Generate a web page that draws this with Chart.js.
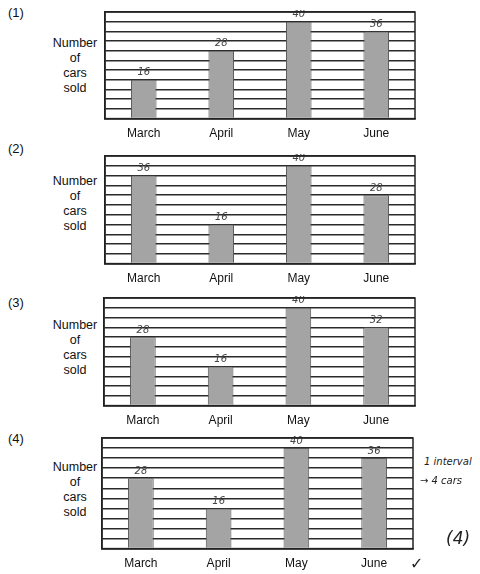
<!DOCTYPE html>
<html>
<head>
<meta charset="utf-8">
<script src="https://cdn.jsdelivr.net/npm/chart.js@4.4.1/dist/chart.umd.min.js"></script>
<style>
  html, body { margin: 0; padding: 0; background: #fff; }
  body { width: 480px; height: 574px; position: relative; overflow: hidden;
         font-family: "Liberation Sans", Arial, sans-serif; color: #111; }
  .num { position: absolute; left: 8px; font-size: 13px; }
  .ylab { position: absolute; width: 60px; left: 45px; text-align: center;
          font-size: 12.5px; line-height: 15px; }
  .box { position: absolute; }
  .hand { position: absolute; font-family: "DejaVu Sans", sans-serif; font-style: italic;
          color: #222; }
</style>
</head>
<body>
<div class="num" style="top:5px">(1)</div>
<div class="num" style="top:141px">(2)</div>
<div class="num" style="top:295px">(3)</div>
<div class="num" style="top:431px">(4)</div>

<div class="ylab" style="top:36px">Number<br>of<br>cars<br>sold</div>
<div class="ylab" style="top:174px">Number<br>of<br>cars<br>sold</div>
<div class="ylab" style="top:318px">Number<br>of<br>cars<br>sold</div>
<div class="ylab" style="top:460px">Number<br>of<br>cars<br>sold</div>

<div class="box" id="b1"><canvas id="c1"></canvas></div>
<div class="box" id="b2"><canvas id="c2"></canvas></div>
<div class="box" id="b3"><canvas id="c3"></canvas></div>
<div class="box" id="b4"><canvas id="c4"></canvas></div>

<div class="hand" style="left:424px; top:456px; font-size:10px">1 interval</div>
<div class="hand" style="left:420px; top:475px; font-size:10px">→ 4 cars</div>
<div class="hand" style="left:446px; top:528px; font-size:17px">(4)</div>
<div class="hand" style="left:410px; top:554px; font-size:16px">✓</div>

<script>
// months and cars sold, one option per chart
const months = ['March', 'April', 'May', 'June'];
const option1 = [16, 28, 40, 36];
const option2 = [36, 16, 40, 28];
const option3 = [28, 16, 40, 32];
const option4 = [28, 16, 40, 36];
const yMax = 44;
const yStep = 4;

// plot boxes in the page: left, top, width, height
const boxes = [
    { id: 1, data: option1, left: 105, top: 12, width: 310, height: 106 },
    { id: 2, data: option2, left: 105, top: 156, width: 310, height: 107 },
    { id: 3, data: option3, left: 104, top: 298, width: 311, height: 107 },
    { id: 4, data: option4, left: 102, top: 438, width: 311, height: 110 }
];

const PAD = 2;
const LABEL_PAD = 8;

// closes the frame on the right side of the plot
const frame = {
    id: 'frame',
    afterDraw(chart) {
        const { ctx, chartArea: a } = chart;
        ctx.save();
        ctx.strokeStyle = '#222';
        ctx.lineWidth = 1.5;
        ctx.strokeRect(a.left, a.top, a.right - a.left, a.bottom - a.top);
        ctx.restore();
    }
};

// pencil values written above the bars
const penValues = {
    id: 'penValues',
    afterDatasetsDraw(chart) {
        const { ctx } = chart;
        const meta = chart.getDatasetMeta(0);
        ctx.save();
        ctx.font = 'italic 10px "DejaVu Sans", sans-serif';
        ctx.fillStyle = '#444';
        ctx.textAlign = 'center';
        ctx.textBaseline = 'bottom';
        meta.data.forEach((bar, i) => {
            ctx.fillText(String(chart.data.datasets[0].data[i]), bar.x, bar.y - 2);
        });
        ctx.restore();
    }
};

boxes.forEach(b => {
    const wrap = document.getElementById('b' + b.id);
    wrap.style.left = (b.left - PAD) + 'px';
    wrap.style.top = (b.top - PAD) + 'px';
    wrap.style.width = (b.width + PAD * 2) + 'px';
    // the x axis box takes about 31px under the plot
    wrap.style.height = (b.height + PAD + LABEL_PAD + 23) + 'px';

    new Chart(document.getElementById('c' + b.id), {
        type: 'bar',
        data: {
            labels: months,
            datasets: [{
                data: b.data,
                backgroundColor: '#a4a4a4',
                borderColor: '#555',
                borderWidth: 1,
                barPercentage: 0.33,
                categoryPercentage: 1
            }]
        },
        options: {
            responsive: true,
            maintainAspectRatio: false,
            animation: false,
            layout: { padding: { left: PAD, right: PAD, top: PAD, bottom: 0 } },
            plugins: { legend: { display: false }, tooltip: { enabled: false } },
            scales: {
                x: {
                    grid: { display: false, drawTicks: false },
                    border: { display: true, color: '#222', width: 1.5 },
                    ticks: {
                        color: '#111',
                        padding: LABEL_PAD,
                        font: { family: '"Liberation Sans", Arial, sans-serif', size: 12 }
                    }
                },
                y: {
                    min: 0,
                    max: yMax,
                    ticks: { display: false, stepSize: yStep },
                    grid: { color: '#2a2a2a', lineWidth: 1.5, drawTicks: false },
                    border: { display: true, color: '#222', width: 1.5 }
                }
            }
        },
        plugins: [frame, penValues]
    });
});
</script>
</body>
</html>
